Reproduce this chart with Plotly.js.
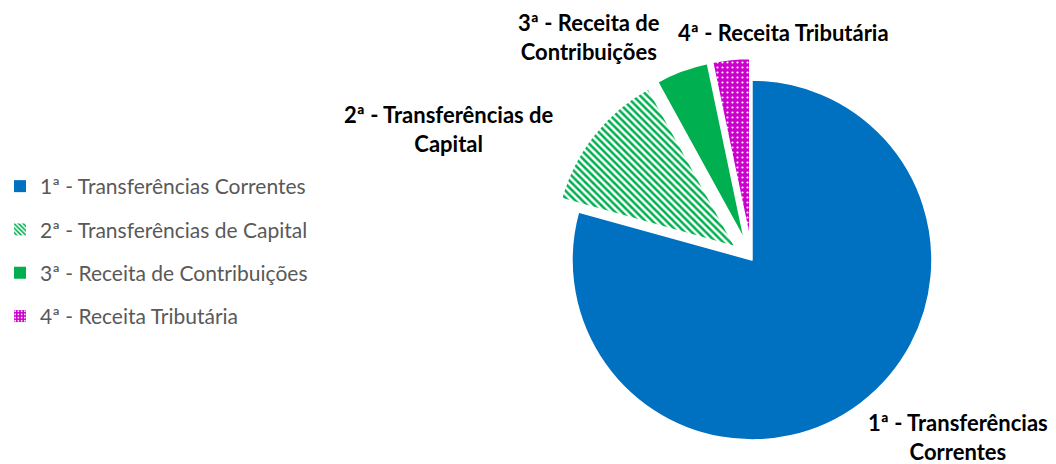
<!DOCTYPE html>
<html>
<head>
<meta charset="utf-8">
<script src="https://cdn.plot.ly/plotly-3.0.1.min.js"></script>
<style>
  html, body { margin: 0; padding: 0; background: #fff; }
  #plot { width: 1056px; height: 464px; }
</style>
</head>
<body>
<div id="plot"></div>
<script>
var categories = [
  "1ª - Transferências Correntes",
  "2ª - Transferências de Capital",
  "3ª - Receita de Contribuições",
  "4ª - Receita Tributária"
];
var sliceLabels = [
  "1ª - Transferências<br>Correntes",
  "2ª - Transferências de<br>Capital",
  "3ª - Receita de<br>Contribuições",
  "4ª - Receita Tributária"
];
var shares = [79.3, 12.7, 4.7, 3.3];

var fillColors = ["#0070C0", "#00B050", "#00B050", "#CC00CC"];
var patternShapes = ["", "\\", "", "."];
var patternFg = ["#0070C0", "#00B050", "#00B050", "#FFFFFF"];
var patternBg = ["#0070C0", "#FFFFFF", "#00B050", "#CC00CC"];
var patternSolidity = [0.5, 0.5, 0.5, 0.15];

var pie = {
  type: "pie",
  labels: categories,
  values: shares,
  textinfo: "none",
  sort: false,
  direction: "clockwise",
  rotation: 0,
  pull: [0, 0.12, 0.12, 0.12],
  showlegend: false,
  hoverinfo: "label+percent",
  domain: {x: [0.5212, 0.9030], y: [0.0052, 0.8741]},
  marker: {
    colors: fillColors,
    line: {color: "#FFFFFF", width: 1.5},
    pattern: {shape: patternShapes, fgcolor: patternFg, bgcolor: patternBg,
              size: 5, solidity: patternSolidity, fillmode: "replace"}
  }
};

// legend entries (one per slice, so they can be spaced like the original)
var legendTraces = categories.map(function (name, i) {
  return {
    type: "bar",
    x: [null], y: [null],
    name: name,
    legendgroup: "g" + i,
    showlegend: true,
    hoverinfo: "skip",
    marker: {
      color: fillColors[i],
      pattern: {shape: patternShapes[i], fgcolor: patternFg[i], bgcolor: patternBg[i],
                size: 4, solidity: i === 3 ? 0.25 : 0.5, fillmode: "replace"}
    }
  };
});

// outside slice labels, placed like in the original
var labelX = [0.907, 0.4252, 0.5578, 0.7415];
var labelY = [0.058, 0.722, 0.920, 0.929];
var annotations = sliceLabels.map(function (t, i) {
  return {
    text: t, xref: "paper", yref: "paper",
    x: labelX[i], y: labelY[i], xanchor: "center", yanchor: "middle",
    align: "center", showarrow: false,
    font: {family: "Lato, sans-serif", size: 22, color: "#000000", weight: "bold"}
  };
});

var layout = {
  width: 1056,
  height: 464,
  margin: {l: 0, r: 0, t: 0, b: 0},
  paper_bgcolor: "#FFFFFF",
  plot_bgcolor: "rgba(0,0,0,0)",
  showlegend: true,
  legend: {
    x: 0, xanchor: "left",
    y: 0.458, yanchor: "middle",
    traceorder: "grouped",
    tracegroupgap: 13,
    itemclick: false,
    font: {family: "Lato, sans-serif", size: 21, color: "#595959"}
  },
  annotations: annotations,
  xaxis: {visible: false, fixedrange: true},
  yaxis: {visible: false, fixedrange: true}
};

Plotly.newPlot("plot", [pie].concat(legendTraces), layout, {displayModeBar: false, staticPlot: true});
</script>
</body>
</html>
